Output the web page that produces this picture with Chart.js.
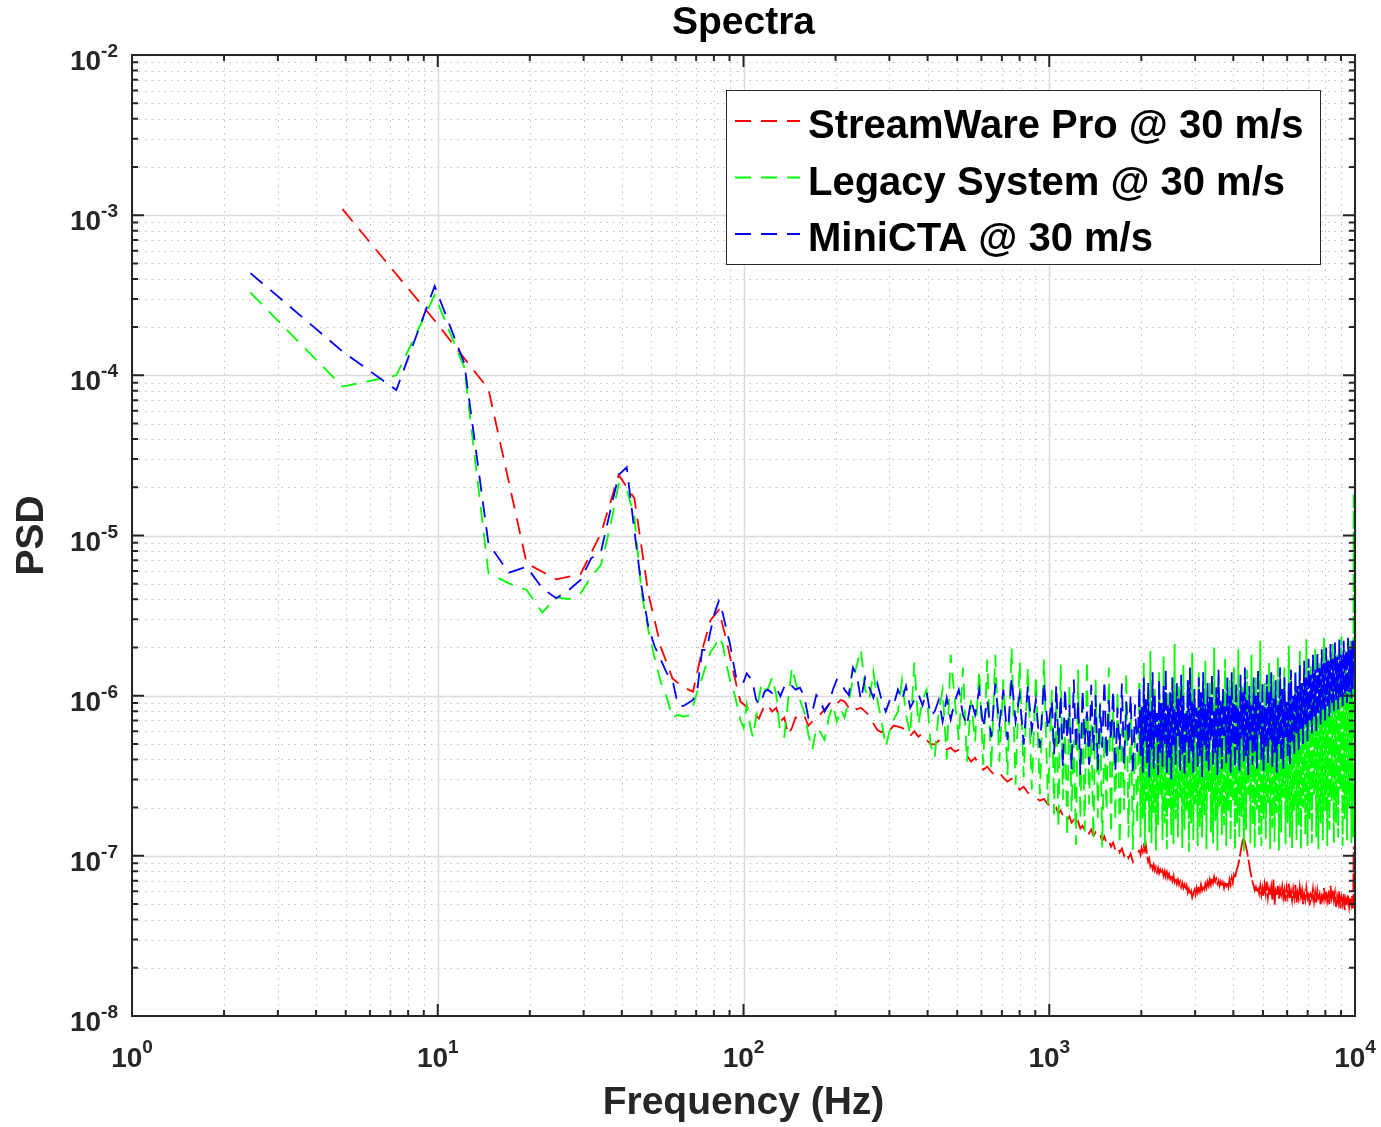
<!DOCTYPE html>
<html>
<head>
<meta charset="utf-8">
<title>Spectra</title>
<script src="https://cdn.jsdelivr.net/npm/chart.js@4.4.0/dist/chart.umd.min.js"></script>
<style>
  html, body { margin: 0; padding: 0; background: #fff; }
  #wrap { width: 1381px; height: 1127px; }
</style>
</head>
<body>
<div id="wrap"><canvas id="spectraChart" width="1381" height="1127"></canvas></div>
<script>
// ---------- data ----------
const seriesLabels = ["StreamWare Pro @ 30 m/s", "Legacy System @ 30 m/s", "MiniCTA @ 30 m/s"];

// axis decades and tick label exponents
const xDecades = [1, 10, 100, 1000, 10000];
const xTickExp = ["0", "1", "2", "3", "4"];
const yDecades = [1e-8, 1e-7, 1e-6, 1e-5, 1e-4, 1e-3, 1e-2];
const yTickExp = ["-8", "-7", "-6", "-5", "-4", "-3", "-2"];

// low frequency bins (Hz)
const freqLowGB = [2.44, 4.88, 7.32, 9.77, 12.21, 14.65, 17.09, 19.53, 21.97, 24.41,
  26.86, 29.30, 31.74, 34.18, 36.62, 39.06, 41.50, 43.95, 46.39, 48.83,
  51.27, 53.71, 56.15, 58.59, 61.04, 63.48, 65.92, 68.36, 70.80, 73.24,
  75.68, 78.13, 80.57, 83.01, 85.45, 87.89, 90.33, 92.77, 95.21, 97.66,
  100.1, 102.5, 104.9, 107.4, 109.9, 112.3, 114.7, 117.2];
const freqLowRed = [4.88, 9.77, 14.65, 19.53, 24.41, 29.30, 34.18, 39.06, 43.95, 48.83,
  53.71, 58.59, 63.48, 68.36, 73.24, 78.13, 83.01, 87.89, 92.77, 97.66,
  102.5, 107.4, 112.3, 117.2];

// mid frequencies (Hz), shared by all three series
const freqMid = [120, 124, 128, 132, 136, 140, 144, 148, 153, 158,
  163, 168, 173, 178, 184, 190, 196, 202, 208, 214,
  221, 228, 235, 242, 250, 258, 266, 274, 283, 292,
  301, 310, 320, 330, 340, 351, 362, 373, 385, 397,
  409, 422, 435, 448, 462, 476, 491, 506, 522, 538,
  555, 572, 590, 608, 627, 646, 666, 687, 708, 730,
  753, 776, 800, 825, 851, 877, 904, 932, 961, 990,
  1020, 1037, 1054, 1072, 1090, 1108, 1126, 1145, 1164, 1183,
  1203, 1223, 1243, 1264, 1285, 1306, 1328, 1350, 1372, 1395,
  1418, 1442, 1466, 1490, 1515, 1540, 1566, 1592, 1618, 1645,
  1672, 1700, 1728, 1757, 1786, 1816, 1846, 1877, 1908, 1940];

// dense high frequencies (Hz), shared by all three series
const freqDense = [1972, 1988, 2005, 2022, 2038, 2055, 2072, 2089, 2107, 2124,
  2142, 2160, 2178, 2196, 2214, 2232, 2251, 2270, 2288, 2307,
  2327, 2346, 2366, 2385, 2405, 2425, 2445, 2466, 2486, 2507,
  2528, 2549, 2570, 2591, 2613, 2635, 2657, 2679, 2701, 2724,
  2746, 2769, 2792, 2815, 2839, 2862, 2886, 2910, 2934, 2959,
  2983, 3008, 3033, 3058, 3084, 3109, 3135, 3161, 3187, 3214,
  3240, 3267, 3294, 3322, 3349, 3377, 3405, 3433, 3462, 3491,
  3520, 3549, 3578, 3608, 3638, 3668, 3699, 3729, 3760, 3792,
  3823, 3855, 3887, 3919, 3952, 3985, 4018, 4051, 4085, 4119,
  4153, 4187, 4222, 4257, 4292, 4328, 4364, 4400, 4437, 4474,
  4511, 4548, 4586, 4624, 4663, 4701, 4740, 4780, 4819, 4859,
  4900, 4940, 4981, 5023, 5064, 5106, 5149, 5192, 5235, 5278,
  5322, 5366, 5411, 5456, 5501, 5547, 5593, 5639, 5686, 5733,
  5781, 5829, 5877, 5926, 5975, 6025, 6075, 6125, 6176, 6227,
  6279, 6331, 6384, 6437, 6490, 6544, 6598, 6653, 6708, 6764,
  6820, 6877, 6934, 6992, 7050, 7108, 7167, 7227, 7287, 7347,
  7408, 7470, 7532, 7594, 7657, 7721, 7785, 7850, 7915, 7981,
  8047, 8114, 8181, 8249, 8317, 8386, 8456, 8526, 8597, 8668,
  8740, 8813, 8886, 8960, 9034, 9109, 9185, 9261, 9338, 9415,
  9493, 9572, 9652, 9732, 9790, 9840, 9870, 9900];

// StreamWare Pro (red)
const redLow = [1.09e-3, 2.2e-4, 8.2e-5, 6.7e-6, 5.33e-6, 5.73e-6, 1.03e-5, 2.39e-5, 1.71e-5, 4.35e-6,
  2.0e-6, 1.28e-6, 1.13e-6, 1.06e-6, 1.93e-6, 2.97e-6, 3.43e-6, 2.23e-6, 1.39e-6, 9.2e-7,
  8.5e-7, 7.9e-7, 7.2e-7, 8.7e-7];
const redMid = [8.8e-7, 7.95e-7, 8.4e-7, 6.9e-7, 7.3e-7, 5.7e-7, 6.3e-7, 7.3e-7, 7.1e-7, 7.5e-7,
  6.5e-7, 6.9e-7, 7.1e-7, 7.6e-7, 8.2e-7, 8.8e-7, 9.4e-7, 8.9e-7, 9.4e-7, 9.2e-7,
  8.4e-7, 8.8e-7, 8.2e-7, 8.4e-7, 7.95e-7, 7.5e-7, 6.7e-7, 6.1e-7, 5.9e-7, 6.4e-7,
  6.1e-7, 6.5e-7, 6.4e-7, 6.3e-7, 6.1e-7, 5.6e-7, 6.0e-7, 5.55e-7, 5.8e-7, 5.3e-7,
  5.0e-7, 4.95e-7, 5.24e-7, 4.88e-7, 4.6e-7, 4.74e-7, 4.47e-7, 4.6e-7, 4.41e-7, 4.22e-7,
  3.87e-7, 4.1e-7, 3.66e-7, 3.45e-7, 3.6e-7, 3.35e-7, 3.17e-7, 3.31e-7, 3.08e-7, 2.91e-7,
  3.03e-7, 2.82e-7, 2.59e-7, 2.7e-7, 2.48e-7, 2.38e-7, 2.31e-7, 2.21e-7, 2.27e-7, 2.09e-7,
  2.06e-7, 1.94e-7, 2.0e-7, 1.83e-7, 1.92e-7, 1.78e-7, 1.86e-7, 1.68e-7, 1.76e-7, 1.61e-7,
  1.68e-7, 1.54e-7, 1.64e-7, 1.48e-7, 1.54e-7, 1.44e-7, 1.5e-7, 1.38e-7, 1.46e-7, 1.34e-7,
  1.4e-7, 1.3e-7, 1.36e-7, 1.24e-7, 1.32e-7, 1.19e-7, 1.26e-7, 1.14e-7, 1.21e-7, 1.09e-7,
  1.16e-7, 1.05e-7, 1.11e-7, 1.0e-7, 1.08e-7, 9.7e-8, 1.03e-7, 9.2e-8, 9.9e-8, 1.02e-7];
const redDense = [1.09e-7, 1.02e-7, 1.12e-7, 1.06e-7, 1.15e-7, 1.08e-7, 1.16e-7, 1.0e-7, 9.2e-8, 9.6e-8,
  8.6e-8, 9.0e-8, 8.3e-8, 8.8e-8, 8.1e-8, 8.5e-8, 7.9e-8, 8.4e-8, 7.8e-8, 8.2e-8,
  7.7e-8, 8.1e-8, 7.5e-8, 8.0e-8, 7.4e-8, 7.9e-8, 7.3e-8, 7.7e-8, 7.2e-8, 7.6e-8,
  7.0e-8, 7.5e-8, 6.9e-8, 7.3e-8, 6.7e-8, 7.1e-8, 6.6e-8, 6.9e-8, 6.4e-8, 6.8e-8,
  6.3e-8, 6.6e-8, 6.1e-8, 6.5e-8, 5.9e-8, 6.2e-8, 5.7e-8, 6.0e-8, 5.5e-8, 5.8e-8,
  6.1e-8, 5.7e-8, 6.3e-8, 5.9e-8, 6.4e-8, 6.0e-8, 6.6e-8, 6.1e-8, 6.5e-8, 6.2e-8,
  6.7e-8, 6.3e-8, 6.9e-8, 6.5e-8, 7.1e-8, 6.6e-8, 7.3e-8, 6.8e-8, 7.4e-8, 6.9e-8,
  7.2e-8, 6.7e-8, 7.0e-8, 6.5e-8, 6.9e-8, 6.4e-8, 6.8e-8, 6.3e-8, 6.7e-8, 6.5e-8,
  6.9e-8, 6.4e-8, 7.1e-8, 6.6e-8, 7.3e-8, 6.8e-8, 7.6e-8, 7.2e-8, 7.9e-8, 8.4e-8,
  8.8e-8, 9.6e-8, 1.05e-7, 1.15e-7, 1.25e-7, 1.3e-7, 1.22e-7, 1.14e-7, 1.06e-7, 9.6e-8,
  8.8e-8, 8.0e-8, 7.4e-8, 6.9e-8, 6.5e-8, 6.1e-8, 6.4e-8, 5.9e-8, 6.2e-8, 5.8e-8,
  6.5e-8, 5.7e-8, 6.3e-8, 5.6e-8, 6.6e-8, 5.8e-8, 6.9e-8, 5.5e-8, 6.2e-8, 5.7e-8,
  6.4e-8, 5.3e-8, 7.1e-8, 4.95e-8, 6.0e-8, 5.6e-8, 6.5e-8, 5.4e-8, 6.2e-8, 5.7e-8,
  6.4e-8, 5.5e-8, 6.1e-8, 5.2e-8, 6.3e-8, 5.6e-8, 6.7e-8, 5.4e-8, 6.0e-8, 5.3e-8,
  6.2e-8, 5.5e-8, 6.6e-8, 5.1e-8, 5.9e-8, 5.4e-8, 6.4e-8, 5.6e-8, 6.1e-8, 5.0e-8,
  5.8e-8, 5.3e-8, 6.3e-8, 5.5e-8, 6.0e-8, 4.9e-8, 5.7e-8, 5.4e-8, 6.2e-8, 5.2e-8,
  5.9e-8, 5.1e-8, 6.1e-8, 5.5e-8, 5.8e-8, 4.9e-8, 5.6e-8, 5.3e-8, 6.3e-8, 5.4e-8,
  6.0e-8, 5.2e-8, 5.7e-8, 5.0e-8, 6.5e-8, 5.5e-8, 6.1e-8, 5.3e-8, 5.9e-8, 4.8e-8,
  5.6e-8, 5.1e-8, 6.0e-8, 4.7e-8, 5.5e-8, 5.0e-8, 5.8e-8, 4.6e-8, 5.4e-8, 5.1e-8,
  5.7e-8, 4.8e-8, 5.5e-8, 5.0e-8, 5.6e-8, 4.7e-8, 5.3e-8, 1.14e-7];

// Legacy System (green)
const greenLow = [3.28e-4, 8.5e-5, 1.0e-4, 3.17e-4, 1.12e-4, 5.81e-6, 5.03e-6, 4.57e-6, 3.3e-6, 4.11e-6,
  4.0e-6, 4.35e-6, 5.53e-6, 6.55e-6, 1.13e-5, 2.1e-5, 1.95e-5, 1.31e-5, 4.4e-6, 2.57e-6,
  1.7e-6, 1.2e-6, 9.7e-7, 7.3e-7, 7.6e-7, 7.4e-7, 7.5e-7, 8.6e-7, 1.08e-6, 1.3e-6,
  1.58e-6, 1.88e-6, 2.04e-6, 2.32e-6, 2.1e-6, 1.58e-6, 1.25e-6, 1.08e-6, 8.8e-7, 7.05e-7,
  6.3e-7, 8.8e-7, 6.6e-7, 5.5e-7, 7.3e-7, 9.7e-7, 1.2e-6, 1.1e-6];
const greenMid = [1.09e-6, 1.3e-6, 1.01e-6, 5.7e-7, 5.55e-7, 9.4e-7, 1.5e-6, 1.22e-6, 9.4e-7, 7.95e-7,
  5.7e-7, 4.6e-7, 6.3e-7, 5.96e-7, 5.3e-7, 7.3e-7, 8.7e-7, 6.9e-7, 8.2e-7, 7.3e-7,
  9.4e-7, 1.26e-6, 1.56e-6, 1.94e-6, 1.09e-6, 9.4e-7, 1.41e-6, 9.4e-7, 6.9e-7, 4.8e-7,
  6.1e-7, 7.1e-7, 7.95e-7, 1.26e-6, 7.6e-7, 5.7e-7, 1.61e-6, 6.6e-7, 9.4e-7, 1.09e-6,
  4.95e-7, 4.1e-7, 7.95e-7, 1.09e-6, 4.0e-7, 1.8e-6, 9.4e-7, 5.3e-7, 1.5e-6, 3.87e-7,
  9.4e-7, 5.16e-7, 1.45e-6, 3.7e-7, 1.68e-6, 3.45e-7, 1.8e-6, 3.87e-7, 1.26e-6, 3.2e-7,
  1.99e-6, 2.78e-7, 1.63e-6, 3.08e-7, 1.5e-6, 2.59e-7, 1.35e-6, 2.41e-7, 1.68e-6, 2.09e-7,
  1.09e-6, 1.81e-7, 9.4e-7, 1.5e-7, 1.56e-6, 2.24e-7, 7.1e-7, 1.3e-7, 1.17e-6, 1.89e-7,
  5.3e-7, 1.17e-7, 1.45e-6, 1.68e-7, 8.8e-7, 1.42e-7, 1.68e-6, 2.09e-7, 6.6e-7, 1.26e-7,
  1.26e-6, 1.73e-7, 9.4e-7, 1.13e-7, 5.7e-7, 1.89e-7, 1.5e-6, 1.36e-7, 7.95e-7, 1.64e-7,
  1.09e-6, 1.17e-7, 6.3e-7, 1.94e-7, 1.41e-6, 1.3e-7, 9.2e-7, 1.09e-7, 5.47e-7, 1.57e-7];
const greenDense = [1.2e-6, 1.3e-7, 6.5e-7, 1.7e-7, 1.6e-6, 1.15e-7, 8.5e-7, 2.2e-7, 4.8e-7, 1.4e-7,
  1.9e-6, 1.2e-7, 7.5e-7, 1.85e-7, 1.1e-6, 1.08e-7, 5.5e-7, 1.55e-7, 1.4e-6, 2.4e-7,
  9e-7, 1.25e-7, 1.75e-6, 1.6e-7, 6e-7, 1.1e-7, 1.05e-6, 2.0e-7, 4.5e-7, 1.35e-7,
  1.3e-6, 1.18e-7, 2.1e-6, 1.7e-7, 7e-7, 1.3e-7, 1.15e-6, 2.3e-7, 5.2e-7, 1.12e-7,
  1.55e-6, 1.45e-7, 8e-7, 1.9e-7, 1.25e-6, 1.06e-7, 6.2e-7, 1.6e-7, 1.85e-6, 1.25e-7,
  9.5e-7, 2.1e-7, 5e-7, 1.15e-7, 1.4e-6, 1.5e-7, 7.2e-7, 1.3e-7, 1.1e-6, 1.8e-7,
  1.65e-6, 1.1e-7, 6.8e-7, 2.5e-7, 1.2e-6, 1.4e-7, 4.6e-7, 1.2e-7, 2.0e-6, 1.65e-7,
  8.8e-7, 1.08e-7, 1.35e-6, 2.0e-7, 5.8e-7, 1.35e-7, 1.05e-6, 1.55e-7, 1.7e-6, 1.15e-7,
  7.5e-7, 1.9e-7, 1.25e-6, 1.25e-7, 5.5e-7, 2.2e-7, 1.5e-6, 1.1e-7, 9.2e-7, 1.6e-7,
  1.95e-6, 1.3e-7, 6.5e-7, 1.75e-7, 1.15e-6, 1.07e-7, 4.9e-7, 1.45e-7, 1.45e-6, 2.4e-7,
  8.2e-7, 1.2e-7, 1.8e-6, 1.55e-7, 6e-7, 1.12e-7, 1.3e-6, 1.95e-7, 1.0e-6, 1.35e-7,
  2.2e-6, 1.15e-7, 7e-7, 1.7e-7, 1.2e-6, 1.28e-7, 5.4e-7, 2.1e-7, 1.6e-6, 1.1e-7,
  9e-7, 1.5e-7, 1.35e-6, 1.22e-7, 6.6e-7, 1.85e-7, 1.75e-6, 1.08e-7, 1.05e-6, 1.4e-7,
  5.2e-7, 2.3e-7, 1.5e-6, 1.18e-7, 8.5e-7, 1.6e-7, 2.05e-6, 1.3e-7, 1.1e-6, 1.12e-7,
  7.2e-7, 1.9e-7, 1.4e-6, 1.25e-7, 9.5e-7, 1.55e-7, 1.9e-6, 1.1e-7, 6.2e-7, 2.0e-7,
  1.25e-6, 1.35e-7, 2.25e-6, 1.15e-7, 8e-7, 1.7e-7, 1.55e-6, 1.2e-7, 1.0e-6, 2.4e-7,
  1.95e-6, 1.3e-7, 7.5e-7, 1.1e-7, 1.6e-6, 1.6e-7, 1.15e-6, 1.25e-7, 2.3e-6, 1.9e-7,
  8.8e-7, 1.15e-7, 1.7e-6, 1.45e-7, 1.2e-6, 2.2e-7, 2.1e-6, 1.2e-7, 9.5e-7, 1.6e-7,
  1.8e-6, 1.3e-7, 1.25e-6, 2.6e-7, 2.35e-6, 1.15e-7, 1.05e-6, 1.7e-7, 1.9e-6, 1.25e-7,
  1.4e-6, 2.0e-7, 2.2e-6, 1.2e-7, 1.5e-6, 1.6e-7, 1.3e-7, 1.8e-5];

// MiniCTA (blue)
const blueLow = [4.35e-4, 1.41e-4, 8.1e-5, 3.61e-4, 1.19e-4, 8.9e-6, 5.86e-6, 6.38e-6, 4.68e-6, 4.06e-6,
  4.57e-6, 5.27e-6, 7.2e-6, 7.9e-6, 1.41e-5, 2.39e-5, 2.67e-5, 1.08e-5, 4.79e-6, 2.7e-6,
  2.02e-6, 1.67e-6, 1.38e-6, 1.25e-6, 8.75e-7, 8.6e-7, 9.0e-7, 9.4e-7, 1.13e-6, 1.93e-6,
  1.93e-6, 2.57e-6, 3.3e-6, 3.9e-6, 3.3e-6, 2.6e-6, 2.1e-6, 1.58e-6, 1.22e-6, 1.22e-6,
  1.22e-6, 1.38e-6, 1.3e-6, 1.18e-6, 9.5e-7, 8.8e-7, 9.4e-7, 1.06e-6];
const blueMid = [1.09e-6, 1.04e-6, 1.12e-6, 9.9e-7, 1.14e-6, 1.09e-6, 1.15e-6, 1.09e-6, 1.12e-6, 9.9e-7,
  7.3e-7, 7.95e-7, 1.01e-6, 9.4e-7, 7.95e-7, 8.8e-7, 1.09e-6, 1.26e-6, 1.22e-6, 1.09e-6,
  1.01e-6, 1.5e-6, 1.33e-6, 9.4e-7, 1.3e-6, 1.12e-6, 9.7e-7, 1.19e-6, 9.4e-7, 7.95e-7,
  9.4e-7, 8.8e-7, 1.09e-6, 9.4e-7, 1.15e-6, 8.4e-7, 9.4e-7, 1.03e-6, 8.7e-7, 1.06e-6,
  7.5e-7, 7.95e-7, 9.4e-7, 6.9e-7, 9.7e-7, 7.1e-7, 9.2e-7, 1.09e-6, 7.6e-7, 6.5e-7,
  9.4e-7, 7.6e-7, 1.09e-6, 6.3e-7, 9.4e-7, 5.5e-7, 1.19e-6, 6.6e-7, 1.09e-6, 5.3e-7,
  1.3e-6, 6.9e-7, 1.01e-6, 4.95e-7, 1.15e-6, 6.1e-7, 9.4e-7, 4.74e-7, 1.22e-6, 6.1e-7,
  9.4e-7, 4.3e-7, 1.17e-6, 4.95e-7, 1.01e-6, 3.55e-7, 1.12e-6, 5.3e-7, 8.8e-7, 3.45e-7,
  1.26e-6, 4.6e-7, 9.4e-7, 3.2e-7, 1.09e-6, 4.95e-7, 7.95e-7, 3.7e-7, 1.17e-6, 4.47e-7,
  1.01e-6, 3.45e-7, 8.8e-7, 4.74e-7, 1.26e-6, 4.0e-7, 9.4e-7, 5.16e-7, 1.09e-6, 3.35e-7,
  8.4e-7, 4.6e-7, 1.19e-6, 3.7e-7, 9.2e-7, 4.95e-7, 1.01e-6, 3.2e-7, 8.8e-7, 4.47e-7];
const blueDense = [1.1e-6, 4.2e-7, 8.5e-7, 3.3e-7, 1.3e-6, 5.2e-7, 9.5e-7, 3.8e-7, 1.2e-6, 3.1e-7,
  8e-7, 4.6e-7, 1.4e-6, 3.5e-7, 1.0e-6, 5.5e-7, 7.8e-7, 3.2e-7, 1.25e-6, 4.4e-7,
  9e-7, 3.6e-7, 1.15e-6, 5.0e-7, 1.45e-6, 3.3e-7, 8.7e-7, 4.1e-7, 1.05e-6, 3.0e-7,
  1.3e-6, 4.8e-7, 8.2e-7, 3.7e-7, 1.2e-6, 5.6e-7, 9.6e-7, 3.4e-7, 1.35e-6, 4.3e-7,
  1.0e-6, 3.2e-7, 7.9e-7, 5.1e-7, 1.25e-6, 3.8e-7, 1.5e-6, 4.5e-7, 9.2e-7, 3.3e-7,
  1.1e-6, 5.4e-7, 8.4e-7, 3.6e-7, 1.3e-6, 4.2e-7, 1.05e-6, 3.1e-7, 1.4e-6, 4.9e-7,
  8.8e-7, 3.9e-7, 1.2e-6, 3.4e-7, 9.8e-7, 5.3e-7, 1.35e-6, 3.7e-7, 8e-7, 4.4e-7,
  1.15e-6, 3.2e-7, 1.45e-6, 4.7e-7, 9.3e-7, 3.5e-7, 1.1e-6, 5.6e-7, 8.6e-7, 3.8e-7,
  1.3e-6, 4.3e-7, 1.0e-6, 3.3e-7, 1.4e-6, 5.0e-7, 9e-7, 3.6e-7, 1.2e-6, 4.6e-7,
  8.3e-7, 3.4e-7, 1.35e-6, 5.4e-7, 1.05e-6, 3.9e-7, 1.5e-6, 4.2e-7, 9.4e-7, 3.2e-7,
  1.15e-6, 5.2e-7, 8.7e-7, 3.7e-7, 1.3e-6, 4.5e-7, 1.0e-6, 3.5e-7, 1.45e-6, 5.7e-7,
  9.1e-7, 4.0e-7, 1.2e-6, 3.4e-7, 8.5e-7, 4.8e-7, 1.35e-6, 3.8e-7, 1.05e-6, 5.3e-7,
  1.4e-6, 3.6e-7, 9.6e-7, 4.4e-7, 1.25e-6, 3.3e-7, 8.8e-7, 5.0e-7, 1.5e-6, 4.0e-7,
  1.1e-6, 3.5e-7, 1.3e-6, 5.5e-7, 9.3e-7, 4.2e-7, 1.2e-6, 3.7e-7, 1.45e-6, 5.1e-7,
  1.0e-6, 4.3e-7, 1.4e-6, 5.8e-7, 1.15e-6, 4.6e-7, 1.55e-6, 6.2e-7, 1.2e-6, 5.0e-7,
  1.65e-6, 6.6e-7, 1.3e-6, 5.2e-7, 1.7e-6, 7.0e-7, 1.35e-6, 5.8e-7, 1.8e-6, 7.4e-7,
  1.45e-6, 6.0e-7, 1.85e-6, 7.8e-7, 1.5e-6, 6.6e-7, 1.95e-6, 8.2e-7, 1.6e-6, 7.0e-7,
  2.0e-6, 8.6e-7, 1.65e-6, 7.4e-7, 2.1e-6, 9.0e-7, 1.7e-6, 8.0e-7, 2.15e-6, 9.4e-7,
  1.75e-6, 8.2e-7, 2.25e-6, 9.8e-7, 1.8e-6, 8.6e-7, 2.2e-6, 1.02e-6, 1.9e-6, 9.0e-7,
  2.3e-6, 1.05e-6, 1.95e-6, 9.6e-7, 2.2e-6, 1.1e-6, 2.0e-6, 2.3e-6];

// ---------- styling ----------
const FONT = '"Liberation Sans", Arial, Helvetica, sans-serif';
const AXIS_COLOR = '#262626';
const DASH = [16, 10];
// where the traces are sampled densely the dashes run together
const DENSE_DASH = [18, 3];

function toPoints(freqs, values) {
  return freqs.map((f, i) => ({ x: f, y: values[i] }));
}

// MATLAB-like axes: dotted minor grid, solid major grid, box with inner ticks, 10^n labels, legend
const matlabAxes = {
  id: 'matlabAxes',
  beforeDatasetsDraw(chart) {
    const { ctx, chartArea: a, scales: { x, y } } = chart;
    ctx.save();
    ctx.lineWidth = 1;
    // minor grid
    ctx.strokeStyle = 'rgba(150,150,150,0.6)';
    ctx.setLineDash([1.5, 5]);
    ctx.beginPath();
    for (let i = 0; i < xDecades.length - 1; i++) {
      for (let m = 2; m <= 9; m++) {
        const px = Math.round(x.getPixelForValue(xDecades[i] * m)) + 0.5;
        ctx.moveTo(px, a.top); ctx.lineTo(px, a.bottom);
      }
    }
    for (let i = 0; i < yDecades.length - 1; i++) {
      for (let m = 2; m <= 9; m++) {
        const py = Math.round(y.getPixelForValue(yDecades[i] * m)) + 0.5;
        ctx.moveTo(a.left, py); ctx.lineTo(a.right, py);
      }
    }
    ctx.stroke();
    // major grid
    ctx.setLineDash([]);
    ctx.strokeStyle = '#dcdcdc';
    ctx.lineWidth = 1.5;
    ctx.beginPath();
    xDecades.forEach(v => {
      const px = Math.round(x.getPixelForValue(v)) + 0.5;
      ctx.moveTo(px, a.top); ctx.lineTo(px, a.bottom);
    });
    yDecades.forEach(v => {
      const py = Math.round(y.getPixelForValue(v)) + 0.5;
      ctx.moveTo(a.left, py); ctx.lineTo(a.right, py);
    });
    ctx.stroke();
    ctx.restore();
  },
  afterDatasetsDraw(chart) {
    const { ctx, chartArea: a, scales: { x, y } } = chart;
    ctx.save();
    ctx.strokeStyle = AXIS_COLOR;
    ctx.lineWidth = 2;
    ctx.setLineDash([]);
    ctx.strokeRect(a.left, a.top, a.right - a.left, a.bottom - a.top);
    // tick marks inside the box
    ctx.beginPath();
    for (let i = 0; i < xDecades.length; i++) {
      for (let m = 1; m <= 9; m++) {
        if (i === xDecades.length - 1 && m > 1) break;
        const len = m === 1 ? 12 : 6;
        const px = x.getPixelForValue(xDecades[i] * m);
        ctx.moveTo(px, a.bottom); ctx.lineTo(px, a.bottom - len);
        ctx.moveTo(px, a.top); ctx.lineTo(px, a.top + len);
      }
    }
    for (let i = 0; i < yDecades.length; i++) {
      for (let m = 1; m <= 9; m++) {
        if (i === yDecades.length - 1 && m > 1) break;
        const len = m === 1 ? 12 : 6;
        const py = y.getPixelForValue(yDecades[i] * m);
        ctx.moveTo(a.left, py); ctx.lineTo(a.left + len, py);
        ctx.moveTo(a.right, py); ctx.lineTo(a.right - len, py);
      }
    }
    ctx.stroke();

    // legend
    const lx = a.left + 594, ly = a.top + 35, lw = 594, lh = 174;
    ctx.fillStyle = '#ffffff';
    ctx.fillRect(lx, ly, lw, lh);
    ctx.lineWidth = 1;
    ctx.strokeStyle = AXIS_COLOR;
    ctx.strokeRect(lx + 0.5, ly + 0.5, lw, lh);
    chart.data.datasets.forEach((ds, i) => {
      const rowY = ly + 31 + i * 56.5;
      ctx.strokeStyle = ds.borderColor;
      ctx.lineWidth = 1.8;
      ctx.setLineDash(DASH);
      ctx.beginPath();
      ctx.moveTo(lx + 9, rowY); ctx.lineTo(lx + 74, rowY);
      ctx.stroke();
      ctx.setLineDash([]);
      ctx.fillStyle = '#000000';
      ctx.font = 'bold 40px ' + FONT;
      ctx.textAlign = 'left';
      ctx.textBaseline = 'alphabetic';
      ctx.fillText(ds.label, lx + 82, rowY + 17);
    });
    ctx.restore();
  },
  afterDraw(chart) {
    const { ctx, chartArea: a, scales: { x, y } } = chart;
    ctx.save();
    ctx.fillStyle = AXIS_COLOR;
    ctx.textBaseline = 'alphabetic';
    const baseFont = 'bold 28px ' + FONT;
    const expFont = 'bold 19px ' + FONT;
    // x tick labels
    xDecades.forEach((v, i) => {
      const px = x.getPixelForValue(v);
      ctx.font = baseFont;
      const wb = ctx.measureText('10').width;
      ctx.font = expFont;
      const we = ctx.measureText(xTickExp[i]).width;
      const start = px - (wb + we) / 2;
      ctx.textAlign = 'left';
      ctx.font = baseFont;
      ctx.fillText('10', start, a.bottom + 51);
      ctx.font = expFont;
      ctx.fillText(xTickExp[i], start + wb, a.bottom + 37);
    });
    // y tick labels
    yDecades.forEach((v, i) => {
      const py = y.getPixelForValue(v);
      ctx.font = expFont;
      const we = ctx.measureText(yTickExp[i]).width;
      const right = a.left - 14;
      ctx.textAlign = 'right';
      ctx.fillText(yTickExp[i], right, py + 2);
      ctx.font = baseFont;
      ctx.fillText('10', right - we, py + 15);
    });
    ctx.restore();
  }
};

const ctx = document.getElementById('spectraChart');
const spectraChart = new Chart(ctx, {
  type: 'line',
  data: {
    datasets: [{
      label: seriesLabels[0],
      data: toPoints(freqLowRed.concat(freqMid, freqDense), redLow.concat(redMid, redDense)),
      borderColor: '#ff0000',
      order: 3
    }, {
      label: seriesLabels[1],
      data: toPoints(freqLowGB.concat(freqMid, freqDense), greenLow.concat(greenMid, greenDense)),
      borderColor: '#00ff00',
      order: 2
    }, {
      label: seriesLabels[2],
      data: toPoints(freqLowGB.concat(freqMid, freqDense), blueLow.concat(blueMid, blueDense)),
      borderColor: '#0000ff',
      order: 1
    }]
  },
  options: {
    responsive: false,
    animation: false,
    events: [],
    layout: { padding: { left: 0, right: 26, top: 0, bottom: 0 } },
    datasets: {
      line: {
        borderWidth: 1.8,
        borderDash: DASH,
        pointRadius: 0,
        fill: false,
        tension: 0,
        segment: {
          borderDash: c => (c.p0.parsed.x >= freqDense[0] ? DENSE_DASH : undefined)
        }
      }
    },
    scales: {
      x: {
        type: 'logarithmic',
        min: 1,
        max: 10000,
        grid: { display: false },
        border: { display: false },
        ticks: { display: false },
        title: {
          display: true,
          text: 'Frequency (Hz)',
          color: AXIS_COLOR,
          font: { family: FONT, size: 39, weight: 'bold' },
          padding: { top: 0, bottom: 0 }
        },
        afterFit: s => { s.height = 111; }
      },
      y: {
        type: 'logarithmic',
        min: 1e-8,
        max: 1e-2,
        grid: { display: false },
        border: { display: false },
        ticks: { display: false },
        title: {
          display: true,
          text: 'PSD',
          color: AXIS_COLOR,
          font: { family: FONT, size: 39, weight: 'bold' },
          padding: { top: 9, bottom: 0 }
        },
        afterFit: s => { s.width = 132; }
      }
    },
    plugins: {
      legend: { display: false },
      tooltip: { enabled: false },
      title: {
        display: true,
        fullSize: false,
        text: 'Spectra',
        color: '#000000',
        font: { family: FONT, size: 39, weight: 'bold' },
        padding: { top: 0, bottom: 8.2 }
      }
    }
  },
  plugins: [matlabAxes]
});
</script>
</body>
</html>
